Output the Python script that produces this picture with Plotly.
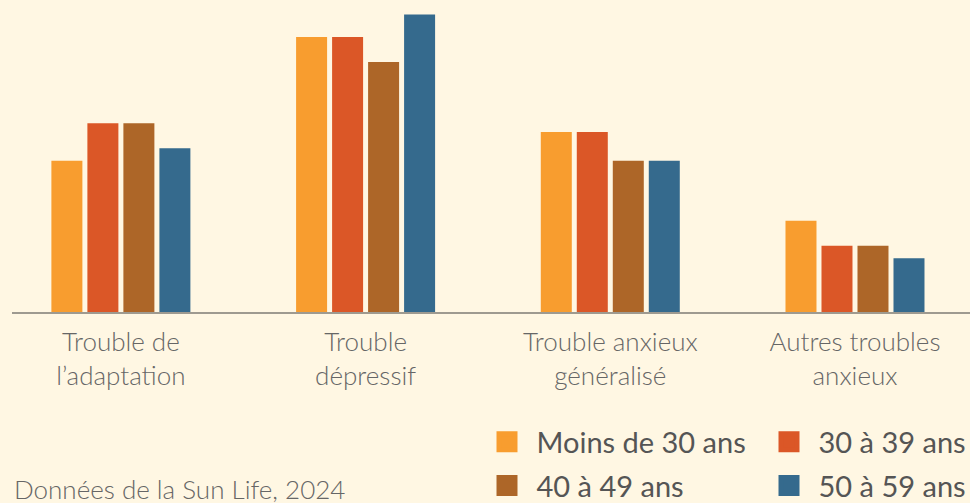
import plotly.graph_objects as go

categories = ["Trouble de<br>l’adaptation", "Trouble<br>dépressif",
              "Trouble anxieux<br>généralisé", "Autres troubles<br>anxieux"]
series_names = ["Moins de 30 ans", "30 à 39 ans", "40 à 49 ans", "50 à 59 ans"]
moins_30 = [12.1, 22.0, 14.4, 7.3]
ans_30_39 = [15.1, 22.0, 14.4, 5.3]
ans_40_49 = [15.1, 20.0, 12.1, 5.3]
ans_50_59 = [13.1, 23.8, 12.1, 4.3]
source_text = "Données de la Sun Life, 2024"

series_values = [moins_30, ans_30_39, ans_40_49, ans_50_59]
colors = ["#F89D2F", "#DB5727", "#AD6628", "#356A8D"]
legend_ids = ["legend", "legend2", "legend", "legend2"]

BG = "#FFF7E3"
FONT = "Lato"

fig = go.Figure()
for name, vals, col in zip(series_names, series_values, colors):
    fig.add_trace(go.Bar(x=categories, y=vals, name=name,
                         marker=dict(color=col, line=dict(width=0)),
                         showlegend=False, hoverinfo="y"))
# legend-only swatches
for i, (name, col, lg) in enumerate(zip(series_names, colors, legend_ids)):
    fig.add_trace(go.Scatter(x=[categories[0]], y=[None], mode="markers", name=name,
                             legend=lg, legendgroup=f"g{i}", hoverinfo="skip",
                             marker=dict(symbol="square", size=16, color=col,
                                         line=dict(width=5, color=col))))

legend_common = dict(orientation="v", xref="container", yref="container",
                     xanchor="left", yanchor="top", bgcolor="rgba(0,0,0,0)",
                     font=dict(family=FONT, size=29, color="#555555"),
                     itemwidth=49, tracegroupgap=3, borderwidth=0)

fig.update_layout(
    width=970, height=503,
    paper_bgcolor=BG, plot_bgcolor=BG,
    margin=dict(l=12, r=0, t=0, b=191, autoexpand=False),
    barmode="group", bargap=0.4115, bargroupgap=0.139,
    font=dict(family=FONT),
    legend=dict(x=477.5/970, y=1-416.5/503, **legend_common),
    legend2=dict(x=759.5/970, y=1-416.5/503, **legend_common),
    xaxis=dict(type="category", range=[-0.445, 3.47], automargin=False,
               showgrid=False, zeroline=False, showline=True, linecolor="#9E9A90",
               linewidth=2, ticks="", ticklabelstandoff=6,
               tickfont=dict(family=FONT, size=26, color="#666666", weight=300),
               fixedrange=True),
    yaxis=dict(range=[0, 24.96], visible=False, showgrid=False, zeroline=False,
               automargin=False, fixedrange=True),
    annotations=[dict(text=source_text, xref="paper", yref="paper", x=0, y=(312-488.5)/312,
                      xanchor="left", yanchor="middle", showarrow=False,
                      font=dict(family=FONT, size=26, color="#666666", weight=300))],
)

fig.write_html("out.html", config={"displayModeBar": False},
               post_script="document.body.style.margin='0';document.body.style.background='#FFF7E3';")
